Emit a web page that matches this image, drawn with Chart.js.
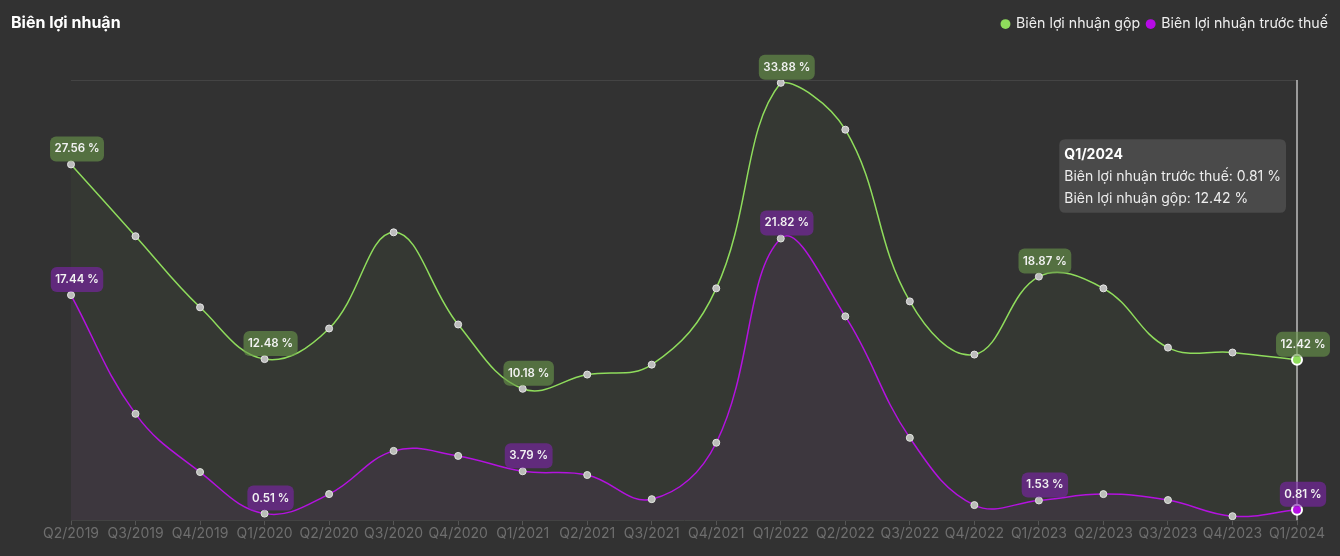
<!DOCTYPE html>
<html><head><meta charset="utf-8">
<script src="https://cdn.jsdelivr.net/npm/chart.js@4/dist/chart.umd.min.js"></script>
<style>
html,body{margin:0;padding:0;background:#323232;}
#wrap{position:relative;width:1340px;height:556px;background:#323232;}
#title{position:absolute;left:11px;top:12px;font:700 16px Inter, sans-serif;color:#fff;}
canvas{position:absolute;left:0;top:0;}
</style></head><body>
<div id="wrap"><canvas id="c" width="1340" height="556"></canvas><div id="title">Biên lợi nhuận</div></div>
<script>
const categories = ['Q2/2019','Q3/2019','Q4/2019','Q1/2020','Q2/2020','Q3/2020','Q4/2020','Q1/2021','Q2/2021','Q3/2021','Q4/2021','Q1/2022','Q2/2022','Q3/2022','Q4/2022','Q1/2023','Q2/2023','Q3/2023','Q4/2023','Q1/2024'];
const grossMargin = [27.56, 22.0, 16.49, 12.48, 14.85, 22.3, 15.16, 10.18, 11.28, 12.05, 17.96, 33.88, 30.25, 16.95, 12.83, 18.87, 17.96, 13.37, 12.99, 12.42];
const pretaxMargin = [17.44, 8.24, 3.73, 0.51, 2.02, 5.37, 4.98, 3.79, 3.5, 1.63, 6.0, 21.82, 15.79, 6.38, 1.17, 1.53, 2.02, 1.56, 0.31, 0.81];
const seriesNames = ['Biên lợi nhuận gộp', 'Biên lợi nhuận trước thuế'];
const labeledIdx = [0, 3, 7, 11, 15, 19];
const yMin = 0, yMax = 34.1;

const GREEN = '#8fdc5c', PURPLE = '#b60ae6';
const FONT = 'Inter, "Noto Sans", sans-serif';

const labelPlugin = {
  id: 'pointLabels',
  afterDatasetsDraw(chart) {
    const ctx = chart.ctx;
    const bgs = ['rgba(105,150,75,0.62)', 'rgba(125,35,170,0.62)'];
    chart.data.datasets.forEach((ds, di) => {
      const meta = chart.getDatasetMeta(di);
      labeledIdx.forEach(i => {
        const pt = meta.data[i];
        const txt = ds.data[i].toFixed(2) + ' %';
        ctx.save();
        ctx.font = '600 11.5px ' + FONT;
        const w = ctx.measureText(txt).width + 9;
        const h = 25;
        const cx = pt.x + 6;
        const bottom = pt.y - 3;
        ctx.fillStyle = bgs[di];
        ctx.beginPath();
        ctx.roundRect(cx - w / 2, bottom - h, w, h, 6);
        ctx.fill();
        ctx.fillStyle = '#f2f2f2';
        ctx.textAlign = 'center';
        ctx.textBaseline = 'middle';
        ctx.fillText(txt, cx, bottom - h / 2);
        ctx.restore();
      });
    });
  }
};

const crosshair = {
  id: 'crosshair',
  beforeDatasetsDraw(chart) {
    const act = chart.tooltip && chart.tooltip.getActiveElements();
    if (!act || !act.length) return;
    const x = act[0].element.x;
    const {top, bottom} = chart.chartArea;
    const ctx = chart.ctx;
    ctx.save();
    ctx.strokeStyle = 'rgba(190,190,190,0.75)';
    ctx.lineWidth = 2;
    ctx.beginPath();
    ctx.moveTo(x, top);
    ctx.lineTo(x, bottom);
    ctx.stroke();
    ctx.restore();
  }
};

const LAYOUT_TOP = 10;
const legendGap = {
  id: 'legendGap',
  beforeInit(chart) {
    const lg = chart.legend;
    if (!lg) return;
    const fit = lg.fit;
    lg.fit = function () { fit.call(this); this.height = 80 - LAYOUT_TOP; };
  }
};

Chart.Tooltip.positioners.fixedTop = function (items) {
  if (!items.length) return false;
  const ca = this.chart.chartArea;
  return { x: items[0].element.x, y: ca.top + 96 };
};

const chart = new Chart(document.getElementById('c'), {
  type: 'line',
  data: {
    labels: categories,
    datasets: [
      {
        label: seriesNames[0], data: grossMargin,
        borderColor: GREEN, backgroundColor: 'rgba(140,220,90,0.045)',
        fill: 'origin', borderWidth: 1.5, tension: 0.4,
        pointRadius: 3.5, pointBackgroundColor: '#bdbdbd', pointBorderColor: '#e6e6e6', pointBorderWidth: 1,
        pointHoverRadius: 5, pointHoverBackgroundColor: GREEN, pointHoverBorderColor: '#ffffff', pointHoverBorderWidth: 2
      },
      {
        label: seriesNames[1], data: pretaxMargin,
        borderColor: PURPLE, backgroundColor: 'rgba(190,40,230,0.06)',
        fill: 'origin', borderWidth: 1.5, tension: 0.4,
        pointRadius: 3.5, pointBackgroundColor: '#bdbdbd', pointBorderColor: '#e6e6e6', pointBorderWidth: 1,
        pointHoverRadius: 5, pointHoverBackgroundColor: PURPLE, pointHoverBorderColor: '#ffffff', pointHoverBorderWidth: 2
      }
    ]
  },
  options: {
    responsive: false,
    animation: false,
    layout: { padding: { top: LAYOUT_TOP, right: 5, bottom: 14, left: 0 } },
    interaction: { mode: 'index', intersect: false },
    scales: {
      x: {
        ticks: { color: '#6e6e6e', font: { family: FONT, size: 14 }, padding: 0, maxRotation: 0, autoSkip: false },
        grid: { drawOnChartArea: false, drawTicks: true, tickLength: 5, color: '#555555' },
        border: { display: true, color: '#434343' }
      },
      y: {
        min: yMin, max: yMax,
        ticks: { display: false },
        grid: { drawTicks: false, color: (c) => (c.tick && c.tick.value === yMax) ? '#444444' : 'rgba(0,0,0,0)' },
        border: { display: false },
        afterFit(scale) { scale.width = 71; }
      },
      yRight: {
        position: 'right', min: yMin, max: yMax,
        ticks: { display: false }, grid: { display: false }, border: { display: false },
        afterFit(scale) { scale.width = 38; }
      }
    },
    plugins: {
      legend: {
        position: 'top', align: 'end',
        labels: {
          usePointStyle: true, pointStyle: 'circle', boxWidth: 7, boxHeight: 7, color: '#eeeeee',
          font: { family: FONT, size: 14.2 }, padding: 7,
          generateLabels(chart) {
            return chart.data.datasets.map((ds, i) => ({
              text: ds.label, fillStyle: ds.borderColor, strokeStyle: ds.borderColor, lineWidth: 0,
              pointStyle: 'circle', fontColor: '#eeeeee', hidden: !chart.isDatasetVisible(i), datasetIndex: i
            }));
          }
        }
      },
      tooltip: {
        position: 'fixedTop', xAlign: 'right', yAlign: 'center',
        caretSize: 0, caretPadding: 11,
        backgroundColor: 'rgba(76,76,76,0.92)', cornerRadius: 6,
        padding: { top: 7, bottom: 6, left: 5, right: 5 },
        displayColors: false,
        titleColor: '#ffffff', bodyColor: '#eeeeee',
        titleFont: { family: FONT, size: 14, weight: 'bold' },
        bodyFont: { family: FONT, size: 14 },
        titleMarginBottom: 5, bodySpacing: 5,
        itemSort: (a, b) => b.datasetIndex - a.datasetIndex,
        callbacks: { label: (c) => c.dataset.label + ': ' + c.parsed.y + ' %' }
      }
    }
  },
  plugins: [legendGap, labelPlugin, crosshair]
});

const last = categories.length - 1;
const active = [{ datasetIndex: 0, index: last }, { datasetIndex: 1, index: last }];
chart.setActiveElements(active);
const el = chart.getDatasetMeta(0).data[last];
chart.tooltip.setActiveElements(active, { x: el.x, y: el.y });
chart.update('none');
</script>
</body></html>
